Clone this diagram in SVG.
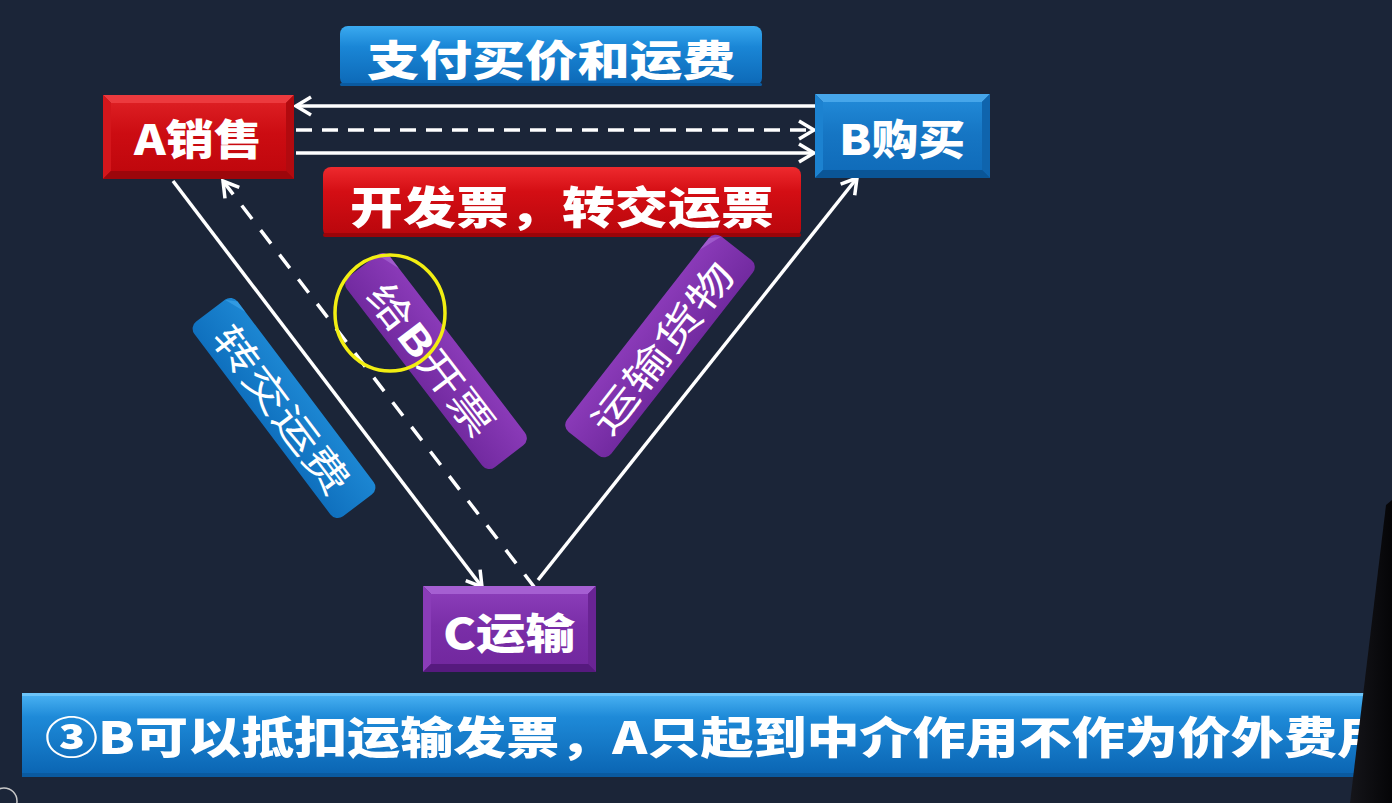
<svg xmlns="http://www.w3.org/2000/svg" width="1392" height="803" viewBox="0 0 1392 803">
<style>
.bold{font-family:"Noto Sans CJK SC","Noto Sans",sans-serif;font-weight:900;fill:#ffffff}
.reg{font-family:"Noto Sans CJK SC","Noto Sans",sans-serif;font-weight:400;fill:#ffffff}
.ln{stroke:#ffffff;stroke-width:3.5;fill:none}
.dash{stroke:#ffffff;stroke-width:3.5;fill:none;stroke-dasharray:16 10}
.dash2{stroke:#ffffff;stroke-width:3.5;fill:none;stroke-dasharray:17 14}
.rT{fill:#ec3a3e}.rL{fill:#d4161b}.rR{fill:#b20a0f}.rB{fill:#9c060b}
.bT{fill:#46a6ea}.bL{fill:#1c82d0}.bR{fill:#0f64ad}.bB{fill:#0a5596}
.pT{fill:#a55fd2}.pL{fill:#8a3cb8}.pR{fill:#6a2494}.pB{fill:#561a7e}
</style>
<defs>
<marker id="arr" markerUnits="userSpaceOnUse" markerWidth="24" markerHeight="24" viewBox="0 0 24 24" refX="20" refY="12" orient="auto">
<path d="M5,3 L20,12 L5,21" fill="none" stroke="#ffffff" stroke-width="3.5" stroke-linejoin="miter"/>
</marker>
<linearGradient id="gRed" x1="0" y1="0" x2="0" y2="1"><stop offset="0" stop-color="#dc1e22"/><stop offset="0.45" stop-color="#cc0c12"/><stop offset="1" stop-color="#c0070d"/></linearGradient>
<linearGradient id="gBlue" x1="0" y1="0" x2="0" y2="1"><stop offset="0" stop-color="#2088d6"/><stop offset="0.45" stop-color="#1676c4"/><stop offset="1" stop-color="#106cba"/></linearGradient>
<linearGradient id="gPur" x1="0" y1="0" x2="0" y2="1"><stop offset="0" stop-color="#8a3cb8"/><stop offset="0.45" stop-color="#7a2ea8"/><stop offset="1" stop-color="#72289f"/></linearGradient>
<linearGradient id="gLblBlue" x1="0" y1="0" x2="0" y2="1"><stop offset="0" stop-color="#3aaaf0"/><stop offset="0.35" stop-color="#1a86d6"/><stop offset="1" stop-color="#0c68b6"/></linearGradient>
<linearGradient id="gLblRed" x1="0" y1="0" x2="0" y2="1"><stop offset="0" stop-color="#ee2a2e"/><stop offset="0.35" stop-color="#d40e14"/><stop offset="1" stop-color="#b8060c"/></linearGradient>
<linearGradient id="gRotBlue" x1="0" y1="0" x2="0" y2="1"><stop offset="0" stop-color="#1c86d2"/><stop offset="1" stop-color="#0f70be"/></linearGradient>
<linearGradient id="gRotPur" x1="0" y1="0" x2="0" y2="1"><stop offset="0" stop-color="#8a3ab8"/><stop offset="1" stop-color="#722aa0"/></linearGradient>
<linearGradient id="gBanner" x1="0" y1="0" x2="0" y2="1"><stop offset="0" stop-color="#4cb4f4"/><stop offset="0.3" stop-color="#1e8ad8"/><stop offset="1" stop-color="#0b66b4"/></linearGradient>
<linearGradient id="gEdge" x1="0" y1="0" x2="1" y2="0"><stop offset="0" stop-color="#15151a"/><stop offset="1" stop-color="#050507"/></linearGradient>
<clipPath id="bannerClip"><rect x="22" y="693" width="1348" height="84"/></clipPath>
</defs>

<rect x="0" y="0" width="1392" height="803" fill="#1b2538"/>

<g id="connectors">
<line class="ln" x1="816" y1="106" x2="296" y2="106" marker-end="url(#arr)"/>
<line class="dash" x1="296" y1="130" x2="814" y2="130" marker-end="url(#arr)"/>
<line class="ln" x1="296" y1="153" x2="814" y2="153" marker-end="url(#arr)"/>
<line class="ln" x1="173" y1="181" x2="482" y2="587" marker-end="url(#arr)"/>
<line class="dash2" x1="535" y1="588" x2="223" y2="181" marker-end="url(#arr)"/>
<line class="ln" x1="538" y1="580" x2="857" y2="178" marker-end="url(#arr)"/>
</g>

<g id="nodeA">
<rect x="103" y="95" width="191" height="84" class="rB"/>
<polygon class="rT" points="103,95 294,95 286,103 111,103"/>
<polygon class="rL" points="103,95 111,103 111,171 103,179"/>
<polygon class="rR" points="294,95 294,179 286,171 286,103"/>
<polygon class="rB" points="103,179 111,171 286,171 294,179"/>
<rect x="111" y="103" width="175" height="68" fill="url(#gRed)"/>
<text class="bold" x="198" y="155" font-size="42" text-anchor="middle" textLength="128" lengthAdjust="spacingAndGlyphs">A销售</text>
</g>

<g id="nodeB">
<rect x="815" y="94" width="175" height="84" class="bB"/>
<polygon class="bT" points="815,94 990,94 982,102 823,102"/>
<polygon class="bL" points="815,94 823,102 823,170 815,178"/>
<polygon class="bR" points="990,94 990,178 982,170 982,102"/>
<polygon class="bB" points="815,178 823,170 982,170 990,178"/>
<rect x="823" y="102" width="159" height="68" fill="url(#gBlue)"/>
<text class="bold" x="902" y="155" font-size="42" text-anchor="middle" textLength="126" lengthAdjust="spacingAndGlyphs">B购买</text>
</g>

<g id="nodeC">
<rect x="423" y="586" width="173" height="86" class="pB"/>
<polygon class="pT" points="423,586 596,586 588,594 431,594"/>
<polygon class="pL" points="423,586 431,594 431,664 423,672"/>
<polygon class="pR" points="596,586 596,672 588,664 588,594"/>
<polygon class="pB" points="423,672 431,664 588,664 596,672"/>
<rect x="431" y="594" width="157" height="70" fill="url(#gPur)"/>
<text class="bold" x="509" y="649" font-size="42" text-anchor="middle" textLength="132" lengthAdjust="spacingAndGlyphs">C运输</text>
</g>

<g id="labelPay">
<rect x="340" y="26" width="422" height="60" rx="8" fill="url(#gLblBlue)"/>
<rect x="340" y="83" width="422" height="3" rx="1.5" fill="#0a5aa0"/>
<text class="bold" x="551" y="76" font-size="42" text-anchor="middle" textLength="368" lengthAdjust="spacingAndGlyphs">支付买价和运费</text>
</g>

<g id="labelInvoice">
<rect x="323" y="167" width="478" height="70" rx="8" fill="url(#gLblRed)"/>
<rect x="323" y="233" width="478" height="4" rx="2" fill="#9a0409"/>
<text class="bold" x="562" y="224" font-size="44" text-anchor="middle" textLength="424" lengthAdjust="spacingAndGlyphs">开发票，转交运票</text>
</g>

<g id="labelFreight" transform="translate(284,408) rotate(53)">
<rect x="-122" y="-27" width="244" height="54" rx="9" fill="url(#gRotBlue)"/>
<polygon points="-122,-18 -113,-27 -100,-27" fill="#3aa2ea" opacity="0.7"/>
<text class="reg" x="0" y="17" font-size="38" text-anchor="middle" textLength="200" lengthAdjust="spacingAndGlyphs">转交运费</text>
</g>

<g id="labelBill" transform="translate(436,361) rotate(52.5)">
<rect x="-120" y="-27" width="240" height="54" rx="9" fill="url(#gRotPur)"/>
<polygon points="-120,-18 -111,-27 -96,-27" fill="#a868d4" opacity="0.7"/>
<text class="reg" x="-4" y="17" font-size="38" text-anchor="middle" textLength="182" lengthAdjust="spacingAndGlyphs">给<tspan font-weight="700">B</tspan>开票</text>
</g>

<g id="labelGoods" transform="translate(660,346) rotate(-52)">
<rect x="-124" y="-28" width="248" height="56" rx="9" fill="url(#gRotPur)"/>
<polygon points="124,-19 115,-28 100,-28" fill="#a868d4" opacity="0.7"/>
<text class="reg" x="0" y="17" font-size="38" text-anchor="middle" textLength="206" lengthAdjust="spacingAndGlyphs">运输货物</text>
</g>

<ellipse id="highlight" cx="390" cy="313" rx="55" ry="58" fill="none" stroke="#f2ee12" stroke-width="3.5"/>

<g id="banner">
<rect x="22" y="693" width="1348" height="84" fill="#0a5aa0"/>
<rect x="22" y="693" width="1348" height="80" fill="url(#gBanner)"/>
<rect x="22" y="693" width="1348" height="3" fill="#6cc4f8"/>
<g clip-path="url(#bannerClip)">
<text class="bold" x="45" y="754" font-size="44" textLength="1345" lengthAdjust="spacingAndGlyphs">③B可以抵扣运输发票，A只起到中介作用不作为价外费用</text>
</g>
</g>

<polygon points="1392,500 1386,505 1350,803 1392,803" fill="url(#gEdge)"/>
<circle cx="4" cy="801" r="13" fill="none" stroke="#c8c8c8" stroke-width="1.5"/>
</svg>
